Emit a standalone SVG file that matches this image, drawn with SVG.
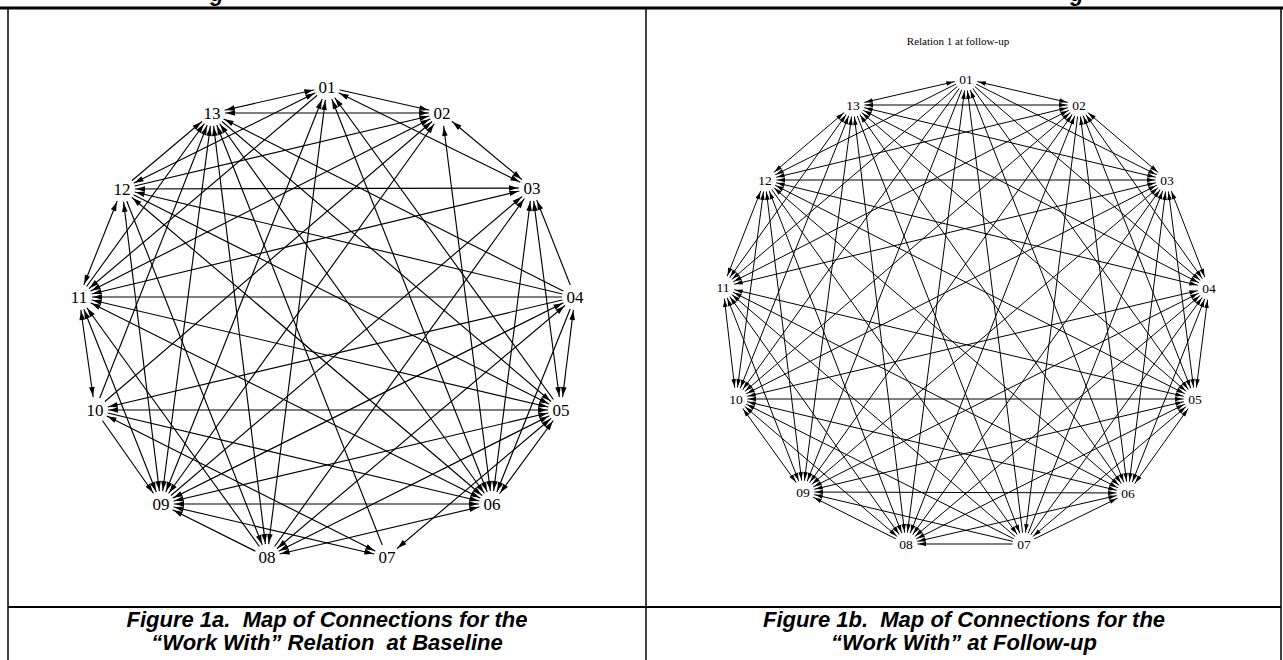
<svg xmlns="http://www.w3.org/2000/svg" width="1283" height="660" viewBox="0 0 1283 660">
<style>
.frame{stroke:#000;fill:none}
.lbl{font-family:"Liberation Serif","Times New Roman",serif;fill:#000;text-anchor:middle}
.lblL{font-size:17px}
.lblR{font-size:13.5px}
.cap{font-family:"Liberation Sans",Arial,sans-serif;font-weight:bold;font-style:italic;font-size:22px;fill:#000;text-anchor:middle;white-space:pre}
.conL line{stroke:#000;stroke-width:1.15}
.conR line{stroke:#000;stroke-width:1}
.conL .b{marker-start:url(#aL);marker-end:url(#aL)}
.conL .d{marker-end:url(#aL)}
.conR .b{marker-start:url(#aR);marker-end:url(#aR)}
.conR .d{marker-end:url(#aR)}
</style>
<defs>
<marker id="aL" markerUnits="userSpaceOnUse" orient="auto-start-reverse" markerWidth="1" markerHeight="1" refX="0" refY="0" style="overflow:visible"><path d="M-14,0 L-23,-2.8 L-23,2.8 Z" fill="#000"/></marker>
<marker id="aR" markerUnits="userSpaceOnUse" orient="auto-start-reverse" markerWidth="1" markerHeight="1" refX="0" refY="0" style="overflow:visible"><path d="M-12.5,0 L-20,-2.3 L-20,2.3 Z" fill="#000"/></marker>
<mask id="mL" maskUnits="userSpaceOnUse" x="0" y="0" width="1283" height="660">
<rect x="0" y="0" width="1283" height="660" fill="#fff"/>
<g fill="#000">
<circle cx="327" cy="87" r="13"/><circle cx="442" cy="113" r="13"/><circle cx="532" cy="188" r="13"/><circle cx="575" cy="297" r="13"/><circle cx="561" cy="410" r="13"/><circle cx="492" cy="504" r="13"/><circle cx="387" cy="557" r="13"/><circle cx="267" cy="557" r="13"/><circle cx="161" cy="504" r="13"/><circle cx="95" cy="410" r="13"/><circle cx="79" cy="297" r="13"/><circle cx="122" cy="189" r="13"/><circle cx="212" cy="113" r="13"/>
</g>
</mask>
<mask id="mR" maskUnits="userSpaceOnUse" x="0" y="0" width="1283" height="660">
<rect x="0" y="0" width="1283" height="660" fill="#fff"/>
<g fill="#000">
<circle cx="966" cy="79" r="11.5"/><circle cx="1079" cy="105" r="11.5"/><circle cx="1167" cy="180" r="11.5"/><circle cx="1209" cy="288" r="11.5"/><circle cx="1195" cy="399" r="11.5"/><circle cx="1128" cy="493" r="11.5"/><circle cx="1024" cy="544" r="11.5"/><circle cx="906" cy="544" r="11.5"/><circle cx="803" cy="492" r="11.5"/><circle cx="736" cy="399" r="11.5"/><circle cx="723" cy="287" r="11.5"/><circle cx="765" cy="180" r="11.5"/><circle cx="853" cy="105" r="11.5"/>
</g>
</mask>
</defs>
<rect x="0" y="0" width="1283" height="660" fill="#fff"/>
<g id="table">
<line class="frame" x1="0" y1="8" x2="1283" y2="8" stroke-width="3"/>
<line class="frame" x1="8" y1="8" x2="8" y2="660" stroke-width="1.5"/>
<line class="frame" x1="646" y1="8" x2="646" y2="660" stroke-width="1.5"/>
<line class="frame" x1="1281" y1="8" x2="1281" y2="660" stroke-width="1.5"/>
<line class="frame" x1="8" y1="607" x2="1281" y2="607" stroke-width="2"/>
<text class="cap" x="217" y="1">g</text>
<text class="cap" x="1077" y="1">g</text>
</g>
<g id="connectors-left" class="conL" mask="url(#mL)">
<line class="b" x1="327" y1="87" x2="212" y2="113"/>
<line class="b" x1="212" y1="113" x2="442" y2="113"/>
<line class="d" x1="327" y1="87" x2="442" y2="113"/>
<line class="b" x1="327" y1="87" x2="532" y2="188"/>
<line class="b" x1="442" y1="113" x2="532" y2="188"/>
<line class="b" x1="122" y1="189" x2="532" y2="188"/>
<line class="d" x1="575" y1="297" x2="79" y2="297"/>
<line class="b" x1="95" y1="410" x2="561" y2="410"/>
<line class="b" x1="161" y1="504" x2="492" y2="504"/>
<line class="d" x1="122" y1="189" x2="212" y2="113"/>
<line class="b" x1="122" y1="189" x2="79" y2="297"/>
<line class="b" x1="79" y1="297" x2="95" y2="410"/>
<line class="d" x1="95" y1="410" x2="161" y2="504"/>
<line class="d" x1="267" y1="557" x2="161" y2="504"/>
<line class="b" x1="161" y1="504" x2="387" y2="557"/>
<line class="b" x1="95" y1="410" x2="387" y2="557"/>
<line class="b" x1="561" y1="410" x2="387" y2="557"/>
<line class="b" x1="561" y1="410" x2="492" y2="504"/>
<line class="b" x1="575" y1="297" x2="561" y2="410"/>
<line class="b" x1="532" y1="188" x2="561" y2="410"/>
<line class="d" x1="575" y1="297" x2="532" y2="188"/>
<line class="b" x1="492" y1="504" x2="532" y2="188"/>
<line class="d" x1="161" y1="504" x2="532" y2="188"/>
<line class="d" x1="267" y1="557" x2="532" y2="188"/>
<line class="b" x1="79" y1="297" x2="532" y2="188"/>
<line class="d" x1="122" y1="189" x2="442" y2="113"/>
<line class="b" x1="79" y1="297" x2="442" y2="113"/>
<line class="d" x1="95" y1="410" x2="442" y2="113"/>
<line class="b" x1="442" y1="113" x2="161" y2="504"/>
<line class="b" x1="492" y1="504" x2="442" y2="113"/>
<line class="b" x1="79" y1="297" x2="492" y2="504"/>
<line class="b" x1="122" y1="189" x2="492" y2="504"/>
<line class="d" x1="95" y1="410" x2="492" y2="504"/>
<line class="b" x1="267" y1="557" x2="492" y2="504"/>
<line class="b" x1="212" y1="113" x2="492" y2="504"/>
<line class="b" x1="327" y1="87" x2="492" y2="504"/>
<line class="d" x1="575" y1="297" x2="492" y2="504"/>
<line class="b" x1="79" y1="297" x2="561" y2="410"/>
<line class="d" x1="122" y1="189" x2="561" y2="410"/>
<line class="d" x1="212" y1="113" x2="561" y2="410"/>
<line class="b" x1="561" y1="410" x2="161" y2="504"/>
<line class="b" x1="267" y1="557" x2="561" y2="410"/>
<line class="d" x1="575" y1="297" x2="95" y2="410"/>
<line class="b" x1="575" y1="297" x2="161" y2="504"/>
<line class="d" x1="575" y1="297" x2="212" y2="113"/>
<line class="b" x1="267" y1="557" x2="575" y2="297"/>
<line class="d" x1="327" y1="87" x2="79" y2="297"/>
<line class="b" x1="79" y1="297" x2="161" y2="504"/>
<line class="d" x1="267" y1="557" x2="79" y2="297"/>
<line class="d" x1="575" y1="297" x2="122" y2="189"/>
<line class="b" x1="122" y1="189" x2="161" y2="504"/>
<line class="d" x1="387" y1="557" x2="212" y2="113"/>
<line class="d" x1="95" y1="410" x2="212" y2="113"/>
<line class="b" x1="212" y1="113" x2="161" y2="504"/>
<line class="b" x1="267" y1="557" x2="212" y2="113"/>
<line class="d" x1="79" y1="297" x2="212" y2="113"/>
<line class="b" x1="267" y1="557" x2="327" y2="87"/>
<line class="b" x1="327" y1="87" x2="161" y2="504"/>
<line class="b" x1="327" y1="87" x2="122" y2="189"/>
<line class="d" x1="561" y1="410" x2="327" y2="87"/>
<line class="d" x1="122" y1="189" x2="267" y2="557"/>
</g>
<g id="connectors-right" class="conR" mask="url(#mR)">
<line class="b" x1="966" y1="79" x2="1079" y2="105"/>
<line class="d" x1="966" y1="79" x2="1167" y2="180"/>
<line class="d" x1="966" y1="79" x2="1209" y2="288"/>
<line class="d" x1="966" y1="79" x2="1195" y2="399"/>
<line class="b" x1="966" y1="79" x2="1128" y2="493"/>
<line class="d" x1="1024" y1="544" x2="966" y2="79"/>
<line class="b" x1="966" y1="79" x2="906" y2="544"/>
<line class="d" x1="966" y1="79" x2="803" y2="492"/>
<line class="d" x1="966" y1="79" x2="736" y2="399"/>
<line class="d" x1="966" y1="79" x2="723" y2="287"/>
<line class="d" x1="966" y1="79" x2="765" y2="180"/>
<line class="b" x1="966" y1="79" x2="853" y2="105"/>
<line class="b" x1="1079" y1="105" x2="1167" y2="180"/>
<line class="b" x1="1079" y1="105" x2="1209" y2="288"/>
<line class="b" x1="1079" y1="105" x2="1195" y2="399"/>
<line class="b" x1="1079" y1="105" x2="1128" y2="493"/>
<line class="d" x1="1079" y1="105" x2="1024" y2="544"/>
<line class="b" x1="1079" y1="105" x2="906" y2="544"/>
<line class="b" x1="1079" y1="105" x2="803" y2="492"/>
<line class="b" x1="1079" y1="105" x2="736" y2="399"/>
<line class="b" x1="1079" y1="105" x2="723" y2="287"/>
<line class="b" x1="1079" y1="105" x2="765" y2="180"/>
<line class="b" x1="1079" y1="105" x2="853" y2="105"/>
<line class="b" x1="1167" y1="180" x2="1209" y2="288"/>
<line class="b" x1="1167" y1="180" x2="1195" y2="399"/>
<line class="b" x1="1167" y1="180" x2="1128" y2="493"/>
<line class="d" x1="1024" y1="544" x2="1167" y2="180"/>
<line class="b" x1="1167" y1="180" x2="906" y2="544"/>
<line class="b" x1="1167" y1="180" x2="803" y2="492"/>
<line class="b" x1="1167" y1="180" x2="736" y2="399"/>
<line class="b" x1="1167" y1="180" x2="723" y2="287"/>
<line class="b" x1="1167" y1="180" x2="765" y2="180"/>
<line class="b" x1="1167" y1="180" x2="853" y2="105"/>
<line class="b" x1="1209" y1="288" x2="1195" y2="399"/>
<line class="b" x1="1209" y1="288" x2="1128" y2="493"/>
<line class="d" x1="1024" y1="544" x2="1209" y2="288"/>
<line class="b" x1="1209" y1="288" x2="906" y2="544"/>
<line class="b" x1="1209" y1="288" x2="803" y2="492"/>
<line class="b" x1="1209" y1="288" x2="736" y2="399"/>
<line class="b" x1="1209" y1="288" x2="765" y2="180"/>
<line class="b" x1="1209" y1="288" x2="853" y2="105"/>
<line class="b" x1="1195" y1="399" x2="1128" y2="493"/>
<line class="b" x1="1195" y1="399" x2="1024" y2="544"/>
<line class="b" x1="1195" y1="399" x2="906" y2="544"/>
<line class="b" x1="1195" y1="399" x2="803" y2="492"/>
<line class="b" x1="1195" y1="399" x2="736" y2="399"/>
<line class="b" x1="1195" y1="399" x2="723" y2="287"/>
<line class="b" x1="1195" y1="399" x2="765" y2="180"/>
<line class="b" x1="1195" y1="399" x2="853" y2="105"/>
<line class="d" x1="1024" y1="544" x2="1128" y2="493"/>
<line class="b" x1="1128" y1="493" x2="906" y2="544"/>
<line class="b" x1="1128" y1="493" x2="803" y2="492"/>
<line class="b" x1="1128" y1="493" x2="736" y2="399"/>
<line class="b" x1="1128" y1="493" x2="723" y2="287"/>
<line class="b" x1="1128" y1="493" x2="765" y2="180"/>
<line class="b" x1="1128" y1="493" x2="853" y2="105"/>
<line class="d" x1="1024" y1="544" x2="906" y2="544"/>
<line class="d" x1="1024" y1="544" x2="803" y2="492"/>
<line class="d" x1="1024" y1="544" x2="736" y2="399"/>
<line class="d" x1="1024" y1="544" x2="723" y2="287"/>
<line class="d" x1="765" y1="180" x2="1024" y2="544"/>
<line class="d" x1="853" y1="105" x2="1024" y2="544"/>
<line class="d" x1="906" y1="544" x2="803" y2="492"/>
<line class="b" x1="906" y1="544" x2="736" y2="399"/>
<line class="b" x1="906" y1="544" x2="723" y2="287"/>
<line class="b" x1="906" y1="544" x2="765" y2="180"/>
<line class="b" x1="906" y1="544" x2="853" y2="105"/>
<line class="b" x1="803" y1="492" x2="736" y2="399"/>
<line class="b" x1="803" y1="492" x2="723" y2="287"/>
<line class="b" x1="803" y1="492" x2="765" y2="180"/>
<line class="b" x1="803" y1="492" x2="853" y2="105"/>
<line class="b" x1="736" y1="399" x2="723" y2="287"/>
<line class="b" x1="736" y1="399" x2="765" y2="180"/>
<line class="b" x1="736" y1="399" x2="853" y2="105"/>
<line class="b" x1="723" y1="287" x2="765" y2="180"/>
<line class="b" x1="723" y1="287" x2="853" y2="105"/>
<line class="b" x1="765" y1="180" x2="853" y2="105"/>
</g>
<g id="left-nodes" class="lbl lblL">
<g id="L01"><text x="327" y="93">01</text></g>
<g id="L02"><text x="442" y="119">02</text></g>
<g id="L03"><text x="532" y="194">03</text></g>
<g id="L04"><text x="575" y="303">04</text></g>
<g id="L05"><text x="561" y="416">05</text></g>
<g id="L06"><text x="492" y="510">06</text></g>
<g id="L07"><text x="387" y="563">07</text></g>
<g id="L08"><text x="267" y="563">08</text></g>
<g id="L09"><text x="161" y="510">09</text></g>
<g id="L10"><text x="95" y="416">10</text></g>
<g id="L11"><text x="79" y="303">11</text></g>
<g id="L12"><text x="122" y="195">12</text></g>
<g id="L13"><text x="212" y="119">13</text></g>
</g>
<g id="right-nodes" class="lbl lblR">
<text id="title-right" x="958" y="45" style="font-size:11px">Relation 1 at follow-up</text>
<g id="R01"><text x="966" y="84">01</text></g>
<g id="R02"><text x="1079" y="110">02</text></g>
<g id="R03"><text x="1167" y="185">03</text></g>
<g id="R04"><text x="1209" y="293">04</text></g>
<g id="R05"><text x="1195" y="404">05</text></g>
<g id="R06"><text x="1128" y="498">06</text></g>
<g id="R07"><text x="1024" y="549">07</text></g>
<g id="R08"><text x="906" y="549">08</text></g>
<g id="R09"><text x="803" y="497">09</text></g>
<g id="R10"><text x="736" y="404">10</text></g>
<g id="R11"><text x="723" y="292">11</text></g>
<g id="R12"><text x="765" y="185">12</text></g>
<g id="R13"><text x="853" y="110">13</text></g>
</g>
<g id="captions">
<text class="cap" x="327" y="627" xml:space="preserve">Figure 1a.  Map of Connections for the</text>
<text class="cap" x="327" y="650" xml:space="preserve">“Work With” Relation  at Baseline</text>
<text class="cap" x="964" y="627" xml:space="preserve">Figure 1b.  Map of Connections for the</text>
<text class="cap" x="964" y="650" xml:space="preserve">“Work With” at Follow-up</text>
</g>
</svg>
